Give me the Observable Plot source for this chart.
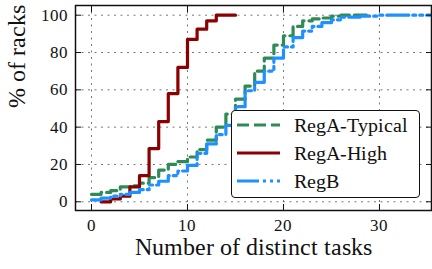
<!DOCTYPE html>
<html>
<head>
<meta charset="utf-8">
<script src="https://cdn.jsdelivr.net/npm/d3@7"></script>
<script src="https://cdn.jsdelivr.net/npm/@observablehq/plot@0.6"></script>
<style>
  @font-face { font-family: "ChartSerif"; src: local("Liberation Serif"), local("LiberationSerif-Regular"), local("LiberationSerif"); }
  html, body { margin: 0; padding: 0; background: white; }
  #wrap, #wrap * { font-family: "ChartSerif", "Liberation Serif", "Times New Roman", serif !important; }
</style>
</head>
<body>
<div id="wrap" style="position:relative;width:432px;height:269px;">
  <div id="legend" style="position:absolute;left:231px;top:110px;width:189px;height:88px;box-sizing:border-box;border:1.5px solid #111;border-radius:4px;background:white;z-index:2;color:#111;font-size:20px">
    <div class="row" style="position:absolute;left:0;top:0px;width:100%;height:28px"><span style="position:absolute;left:62px;top:2px;line-height:24px;white-space:nowrap">RegA-Typical</span></div>
    <div class="row" style="position:absolute;left:0;top:28px;width:100%;height:28px"><span style="position:absolute;left:62px;top:2px;line-height:24px;white-space:nowrap">RegA-High</span></div>
    <div class="row" style="position:absolute;left:0;top:56px;width:100%;height:28px"><span style="position:absolute;left:62px;top:2px;line-height:24px;white-space:nowrap">RegB</span></div>
  </div>
</div>
<script>
// RegA-Typical
const typicalTasks = [0,1,2,3,4,5,6,7,8,9,10,11,12,13,14,15,16,17,18,19,20,21,22,23,24,25,26,29];
const typicalPct   = [4,5,6,8,8.5,10,13,17,20,21.5,24,28,33,40,47,55,62,70,77,84,89,94,97,98,98.5,99.5,100,100];
// RegA-High
const highTasks = [1,2,3,4,5,6,7,8,9,10,11,12,13,15];
const highPct   = [0,1.5,3,8,14,28.5,43,58,72,87,92.5,97,100,100];
// RegB
const regbTasks = [0,1,2,3,4,5,6,7,8,9,10,11,12,13,14,15,16,17,18,19,20,21,22,23,24,25,26,28,30,36];
const regbPct   = [1,2,3,4,5,6.5,9,11,14,16.5,19.5,26,31,36,41,51,59.5,64,70,77,83,88,91.5,94,96,97.5,99,99.5,100,100];

const xTicks = [0,10,20,30];
const yTicks = [0,20,40,60,80,100];
const seriesNames = ["RegA-Typical","RegA-High","RegB"];
const seriesColors = ["#2e8b57","#8b0000","#1e90ff"];
const seriesDash = ["12,5", null, "22,4,3,4,3,4"];
const xLabel = "Number of distinct tasks";
const yLabel = "% of racks";
const FONT = "ChartSerif, 'Liberation Serif', 'Times New Roman', serif";

const toRows = (xs, ys) => xs.map((x, i) => ({x, y: ys[i]}));
const series = [toRows(typicalTasks, typicalPct), toRows(highTasks, highPct), toRows(regbTasks, regbPct)];

const chart = Plot.plot({
  width: 432, height: 269,
  marginLeft: 75, marginRight: 1, marginTop: 5, marginBottom: 59,
  x: {domain: [-1.667, 35.42]},
  y: {domain: [-4.67, 105.2]},
  style: {fontFamily: FONT, fontSize: "16px", background: "white", color: "#111"},
  marks: [
    Plot.gridX(xTicks, {stroke: "#777", strokeOpacity: 1, strokeDasharray: "2,4.5"}),
    Plot.gridY(yTicks, {stroke: "#777", strokeOpacity: 1, strokeDasharray: "2,4.5"}),
    ...series.map((d, i) => Plot.line(d, {
      x: "x", y: "y", curve: "step-after", clip: true,
      stroke: seriesColors[i], strokeWidth: 3.2, strokeDasharray: seriesDash[i]
    })),
    Plot.axisX(xTicks, {anchor: "bottom", tickSize: -6, tickFormat: () => "", label: null}),
    Plot.axisX(xTicks, {anchor: "bottom", tickSize: 0, tickPadding: 8, fontSize: 17, label: null}),
    Plot.axisX(xTicks, {anchor: "top", tickSize: -6, tickFormat: () => "", label: null}),
    Plot.axisY(yTicks, {anchor: "left", tickSize: -6, tickFormat: () => "", label: null}),
    Plot.axisY(yTicks, {anchor: "left", tickSize: 0, tickPadding: 8, fontSize: 17, label: null}),
    Plot.axisY(yTicks, {anchor: "right", tickSize: -6, tickFormat: () => "", label: null}),
    Plot.frame({stroke: "#111", strokeWidth: 1.5}),
    Plot.text([xLabel], {frameAnchor: "bottom", dy: 44, fontSize: 24, fill: "#111"}),
    Plot.text([yLabel], {frameAnchor: "left", rotate: -90, dx: -58, fontSize: 24, fill: "#111"})
  ]
});
const wrap = document.getElementById("wrap");
wrap.insertBefore(chart, wrap.firstChild);
chart.querySelectorAll("text").forEach(t => t.setAttribute("font-family", FONT));

// legend swatches
const ns = "http://www.w3.org/2000/svg";
document.querySelectorAll("#legend .row").forEach((row, i) => {
  const s = document.createElementNS(ns, "svg");
  s.setAttribute("width", 46); s.setAttribute("height", 28);
  s.style.position = "absolute"; s.style.left = "4px"; s.style.top = "0px";
  const ln = document.createElementNS(ns, "line");
  ln.setAttribute("x1", 1); ln.setAttribute("x2", 44);
  ln.setAttribute("y1", 14); ln.setAttribute("y2", 14);
  ln.setAttribute("stroke", seriesColors[i]); ln.setAttribute("stroke-width", 3.2);
  if (seriesDash[i]) ln.setAttribute("stroke-dasharray", seriesDash[i]);
  s.appendChild(ln);
  row.insertBefore(s, row.firstChild);
});
</script>
</body>
</html>
